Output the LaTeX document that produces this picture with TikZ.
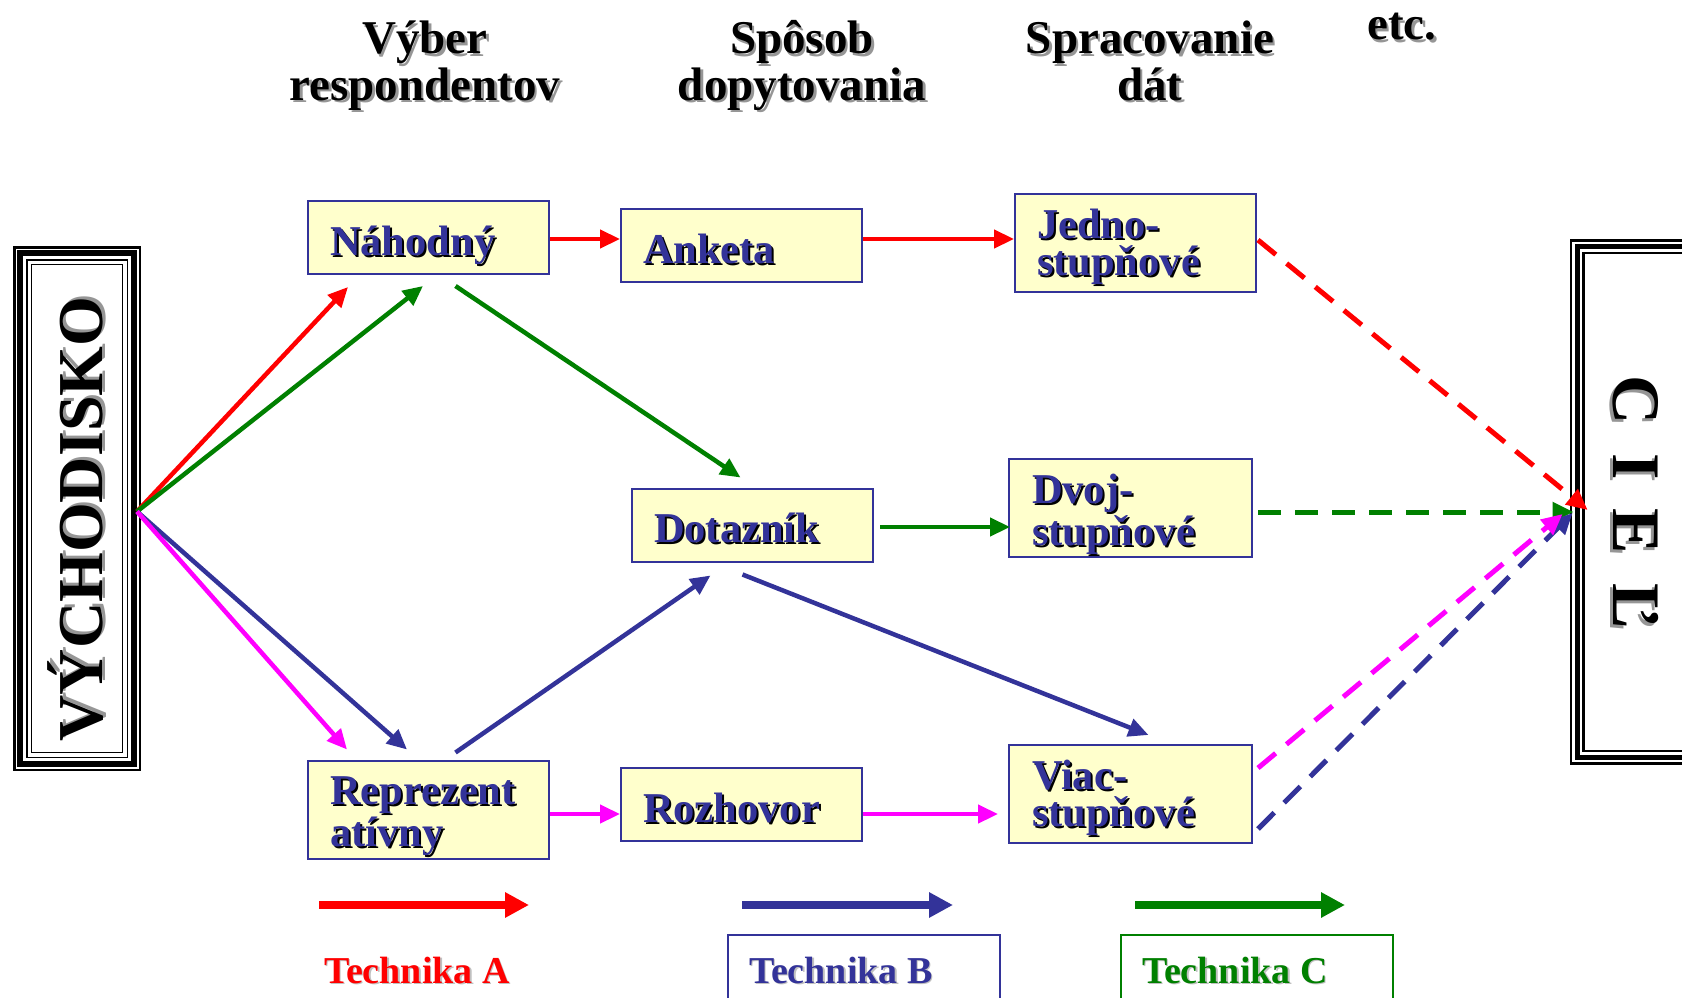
\documentclass[tikz,border=0pt]{standalone}
\usepackage{fontspec}
\setmainfont{Liberation Serif}
\usetikzlibrary{arrows.meta,calc}

\definecolor{tred}{RGB}{255,0,0}
\definecolor{tgreen}{RGB}{0,128,0}
\definecolor{tblue}{RGB}{51,51,153}
\definecolor{tmag}{RGB}{255,0,255}
\definecolor{boxfill}{RGB}{255,255,204}
\definecolor{shadegray}{RGB}{150,150,150}

% text with a drop shadow: #1 offset, #2 shadow colour, #3 text
\newcommand\dropshadow[3]{\leavevmode\rlap{\kern#1\raisebox{-#1}{\textcolor{#2}{#3}}}#3}
\newcommand\bsh[1]{\dropshadow{2pt}{black}{#1}}
\newcommand\gsh[1]{\dropshadow{2.5pt}{shadegray}{#1}}

\begin{document}
\begin{tikzpicture}[x=1pt,y=-1pt,
  box/.style={draw=tblue, fill=boxfill, line width=2pt, minimum width=241pt,
    text width=197pt, align=left, inner xsep=0pt, inner ysep=0pt,
    font=\fontsize{42.5}{37}\selectfont\bfseries, text=tblue},
  oneline/.style={minimum height=73pt, text height=35pt, text depth=0pt},
  twoline/.style={minimum height=98pt, text height=35pt, text depth=45pt},
  head/.style={align=center, anchor=base, inner sep=0pt,
    font=\fontsize{47}{41}\selectfont\bfseries},
  conn/.style={line width=4.5pt, -{Triangle[length=20pt,width=18pt]}},
  dconn/.style={line width=5pt, dash pattern=on 23pt off 14pt,
    -{Triangle[length=21pt,width=19pt]}},
  legarrow/.style={line width=8pt, -{Triangle[length=24pt,width=24pt]}},
  legtext/.style={anchor=base west, inner sep=0pt,
    font=\fontsize{38}{38}\selectfont\bfseries},
  legbox/.style={line width=2pt, minimum width=272pt, minimum height=100pt,
    anchor=north west, inner sep=0pt}
]
\fill[white] (0,0) rectangle (1682,998);
\clip (0,0) rectangle (1682,998);

% column headings (base anchor sits on the last line)
\node[head] (h1) at (425,100) {\gsh{Výber}\\\gsh{respondentov}};
\node[head] (h2) at (802,100) {\gsh{Spôsob}\\\gsh{dopytovania}};
\node[head] (h3) at (1150,100) {\gsh{Spracovanie}\\\gsh{dát}};
\node[head] (h4) at (1402,40) {\gsh{etc.}};

% starting point frame
\node[draw, line width=2.5pt, minimum width=125.5pt, minimum height=522.5pt,
  inner sep=0pt] (vych) at (77,508.5) {};
\draw[line width=5.5pt] ($(vych.north west)+(7.2,7.2)$) rectangle ($(vych.south east)+(-7.2,-7.2)$);
\draw[line width=1.8pt] ($(vych.north west)+(13.6,13.6)$) rectangle ($(vych.south east)+(-13.6,-13.6)$);
\draw[line width=0.8pt] ($(vych.north west)+(18.5,18.5)$) rectangle ($(vych.south east)+(-18.5,-18.5)$);
\node[rotate=90, anchor=base, inner sep=0pt, font=\fontsize{64}{64}\selectfont\bfseries]
  (vychT) at (102,519) {\dropshadow{3pt}{shadegray}{VÝCHODISKO}};

% goal frame
\node[draw, line width=2.7pt, minimum width=140pt, minimum height=523pt,
  inner sep=0pt] (cil) at (1641,502) {};
\draw[line width=5pt] ($(cil.north west)+(7.5,7.5)$) rectangle ($(cil.south east)+(-7.5,-7.5)$);
\draw[line width=2.5pt] ($(cil.north west)+(14,14)$) rectangle ($(cil.south east)+(-14,-14)$);
\node[rotate=-90, anchor=base, inner sep=0pt, font=\fontsize{68}{68}\selectfont\bfseries]
  (cilT) at (1613,502) {\dropshadow{3pt}{shadegray}{C\hspace{0.43em}I\hspace{0.43em}E\hspace{0.43em}Ľ}};

% method boxes
\node[box,oneline] (nah) at (428.5,237.5) {\bsh{Náhodný}};
\node[box,oneline] (ank) at (741.5,245.5) {\bsh{Anketa}};
\node[box,twoline] (jed) at (1135.5,243) {\bsh{Jedno-}\\\bsh{stupňové}};
\node[box,oneline] (dot) at (752.5,525) {\bsh{Dotazník}};
\node[box,twoline,minimum width=243pt] (dvo) at (1130.5,508) {\bsh{Dvoj-}\\\bsh{stupňové}};
\node[box,twoline] (rep) at (428.5,809.5) {\bsh{Reprezent}\\\bsh{atívny}};
\node[box,oneline] (roz) at (741.5,804.5) {\bsh{Rozhovor}};
\node[box,twoline,minimum width=243pt] (via) at (1130.5,794) {\bsh{Viac-}\\\bsh{stupňové}};

\coordinate (src) at ($(vych.east)+(-4,3)$);

% technique A
\draw[conn,tred] (src) -- ($(nah.south west)+(41,12)$);
\draw[conn,tred] ($(nah.east)+(0,1.5)$) -- ($(nah.east -| ank.west)+(0,1.5)$);
\draw[conn,tred] ($(ank.east |- nah.east)+(0,1.5)$) -- ($(jed.west |- nah.east)+(0,1.5)$);
\draw[dconn,tred] ($(jed.east)+(1,-3)$) -- ($(cil.west)+(18,8)$);

% technique C
\draw[conn,tgreen] (src) -- ($(nah.south west)+(116,11)$);
\draw[conn,tgreen] ($(nah.south)+(27,11)$) -- ($(dot.north)+(-12,-10)$);
\draw[conn,tgreen] ($(dot.east)+(6,2)$) -- ($(dot.east -| dvo.west)+(2,2)$);
\draw[dconn,tgreen] ($(dvo.east)+(5,4)$) -- ($(cil.west)+(4,10)$);

% technique B
\draw[conn,tblue] (src) -- ($(rep.north west)+(100,-10)$);
\draw[conn,tblue] ($(rep.north)+(27,-7)$) -- ($(dot.south)+(-42,13)$);
\draw[conn,tblue] ($(dot.south)+(-10,12)$) -- ($(via.north)+(18,-9)$);
\draw[dconn,tblue] ($(via.east)+(5,35)$) -- ($(cil.west)+(3,11)$);

% representative sample, interview
\draw[conn,tmag] (src) -- ($(rep.north west)+(40,-10)$);
\draw[conn,tmag] ($(rep.east)+(0,4.5)$) -- ($(rep.east -| roz.west)+(0,4.5)$);
\draw[conn,tmag] ($(roz.east |- rep.east)+(0,4.5)$) -- ($(rep.east -| via.west)+(-10,4.5)$);
\draw[dconn,tmag] ($(via.east)+(5,-26)$) -- ($(cil.west)+(-7,12)$);

% legend
\coordinate (la1) at (319,905); \coordinate (la2) at (529,905);
\coordinate (lb1) at (742,905); \coordinate (lb2) at (953,905);
\coordinate (lc1) at (1135,905); \coordinate (lc2) at (1345,905);
\draw[legarrow,tred] (la1) -- (la2);
\draw[legarrow,tblue] (lb1) -- (lb2);
\draw[legarrow,tgreen] (lc1) -- (lc2);
\node[legbox,draw=tblue] (lbB) at (727,934) {};
\node[legbox,draw=tgreen] (lbC) at (1120,934) {};
\node[legtext,text=tred] (ta) at (324,983) {\dropshadow{1.5pt}{shadegray!60}{Technika A}};
\node[legtext,text=tblue] (tb) at (749,983) {\dropshadow{1.5pt}{shadegray!60}{Technika B}};
\node[legtext,text=tgreen] (tc) at (1142,983) {\dropshadow{1.5pt}{shadegray!60}{Technika C}};
\end{tikzpicture}
\end{document}
